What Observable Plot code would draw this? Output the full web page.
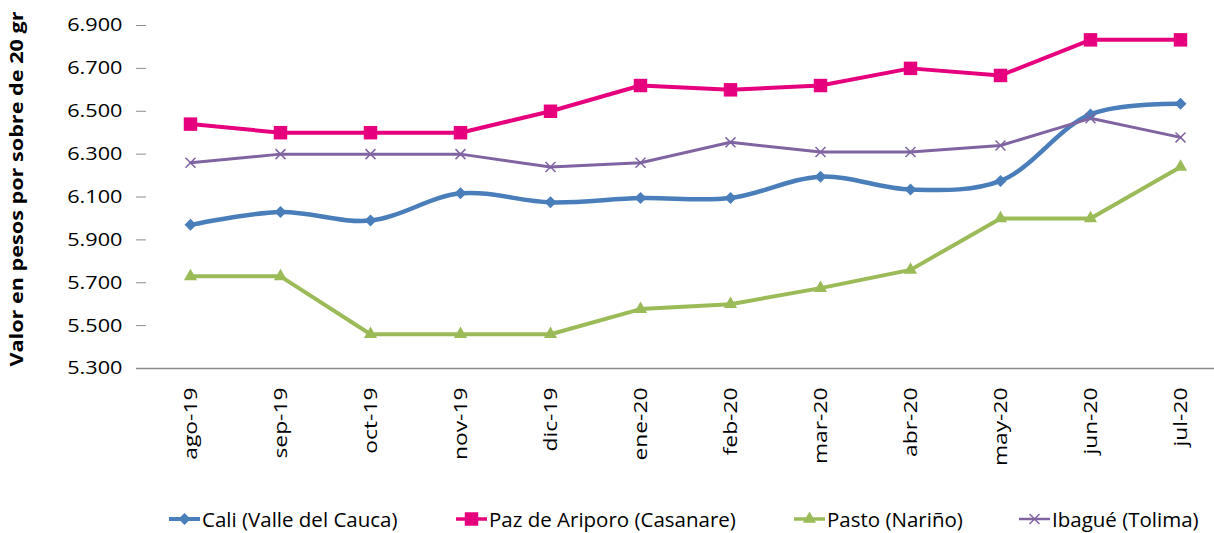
<!DOCTYPE html>
<html>
<head>
<meta charset="utf-8">
<script src="https://cdn.jsdelivr.net/npm/d3@7"></script>
<script src="https://cdn.jsdelivr.net/npm/@observablehq/plot@0.6"></script>
<style>
  html, body { margin: 0; padding: 0; background: #fff; }
  body { width: 1214px; height: 533px; overflow: hidden; font-family: "Open Sans", sans-serif; position: relative; }
  #legend { position: absolute; left: 0; top: 505px; width: 1214px; height: 28px; font-size: 20.5px; color: #000; white-space: nowrap; }
  .item { position: absolute; top: 0; display: flex; align-items: center; height: 28px; }
  .item svg { margin-right: 1px; }
</style>
</head>
<body>
<div id="chart"></div>
<div id="legend"></div>
<script>
const months = ["ago-19","sep-19","oct-19","nov-19","dic-19","ene-20","feb-20","mar-20","abr-20","may-20","jun-20","jul-20"];
const cali   = [5970, 6030, 5990, 6117, 6075, 6095, 6095, 6195, 6135, 6175, 6485, 6535];
const paz    = [6440, 6400, 6400, 6400, 6500, 6620, 6600, 6620, 6700, 6667, 6833, 6833];
const pasto  = [5730, 5730, 5460, 5460, 5460, 5577, 5600, 5675, 5760, 6000, 6000, 6240];
const ibague = [6260, 6300, 6300, 6300, 6240, 6260, 6355, 6310, 6310, 6340, 6467, 6378];
const yTicks = [5300, 5500, 5700, 5900, 6100, 6300, 6500, 6700, 6900];
const yTitle = "Valor en pesos por sobre de 20 gr";
const seriesNames = ["Cali (Valle del Cauca)", "Paz de Ariporo (Casanare)", "Pasto (Nariño)", "Ibagué (Tolima)"];

const series = [
  {name: seriesNames[0], values: cali, color: "#4A7EBB", symbol: "diamond2", r: 5.4, width: 4.5, curve: "catmull-rom", fill: true, lx: 168},
  {name: seriesNames[1], values: paz, color: "#E6007E", symbol: "square", r: 7.6, width: 4, curve: "linear", fill: true, lx: 455},
  {name: seriesNames[2], values: pasto, color: "#9BBB59", symbol: "triangle", r: 4.9, width: 4, curve: "linear", fill: true, lx: 793},
  {name: seriesNames[3], values: ibague, color: "#8064A2", symbol: "times", r: 4.6, width: 3, curve: "linear", fill: false, lx: 1018}
];

const fmt = d => d3.format(",.0f")(d).replace(/,/g, ".");

const marks = [
  Plot.ruleY([5300], {stroke: "#8c8c8c", strokeWidth: 1.3, insetLeft: -10, insetRight: -20}),
  Plot.axisY({ticks: yTicks, tickSize: 10, tickPadding: 14, tickFormat: fmt, fontSize: 18.7, stroke: "#8c8c8c", label: null, line: true}),
  Plot.axisX({tickSize: 0, tickRotate: -90, tickPadding: 19, fontSize: 19, label: null}),
  Plot.text([yTitle], {frameAnchor: "left", textAnchor: "middle", rotate: -90, dx: -129, dy: -8, fontWeight: "bold", fontSize: 17.5, fill: "#000"})
];
for (const s of series) {
  const data = months.map((m, i) => ({m, v: s.values[i]}));
  marks.push(Plot.line(data, {x: "m", y: "v", stroke: s.color, strokeWidth: s.width, curve: s.curve}));
}
for (const s of series) {
  const data = months.map((m, i) => ({m, v: s.values[i]}));
  if (s.fill) marks.push(Plot.dot(data, {x: "m", y: "v", symbol: s.symbol, r: s.r, fill: s.color, stroke: "none"}));
  else marks.push(Plot.dot(data, {x: "m", y: "v", symbol: s.symbol, r: s.r, stroke: s.color, strokeWidth: 1.5}));
}

const chart = Plot.plot({
  width: 1214,
  height: 505,
  marginLeft: 146,
  marginRight: 0,
  marginTop: 25,
  marginBottom: 137,
  style: {fontFamily: "Open Sans, sans-serif", color: "#000", background: "#fff", overflow: "visible"},
  x: {type: "point", domain: months, range: [190, 1180], padding: 0},
  y: {domain: [5300, 6900]},
  marks
});
document.getElementById("chart").appendChild(chart);

// stretch text horizontally (reference font is wider)
function stretch(sel, factor) {
  sel.each(function() {
    const L = this.getComputedTextLength();
    this.setAttribute("textLength", (L * factor).toFixed(1));
    this.setAttribute("lengthAdjust", "spacingAndGlyphs");
  });
}
const root = d3.select(chart);
stretch(root.selectAll('[aria-label="y-axis tick label"] text'), 1.16);
stretch(root.selectAll('[aria-label="x-axis tick label"] text'), 1.2);
root.selectAll('[aria-label="text"] text').each(function() {
  this.setAttribute("textLength", 355);
  this.setAttribute("lengthAdjust", "spacingAndGlyphs");
});

// legend
const legend = document.getElementById("legend");
const symMap = {diamond2: d3.symbolDiamond2, square: d3.symbolSquare, triangle: d3.symbolTriangle, times: d3.symbolTimes};
for (const s of series) {
  const item = document.createElement("div");
  item.className = "item";
  item.style.left = s.lx + "px";
  const svg = d3.create("svg").attr("width", 33).attr("height", 20);
  svg.append("line").attr("x1", 1).attr("x2", 32).attr("y1", 10).attr("y2", 10)
    .attr("stroke", s.color).attr("stroke-width", s.width - 0.5);
  const path = svg.append("path").attr("transform", "translate(16.5,10)")
    .attr("d", d3.symbol(symMap[s.symbol], Math.PI * s.r * s.r)());
  if (s.fill) path.attr("fill", s.color);
  else path.attr("fill", "none").attr("stroke", s.color).attr("stroke-width", 1.5);
  item.appendChild(svg.node());
  const span = document.createElement("span");
  span.textContent = s.name;
  item.appendChild(span);
  legend.appendChild(item);
}
</script>
</body>
</html>
